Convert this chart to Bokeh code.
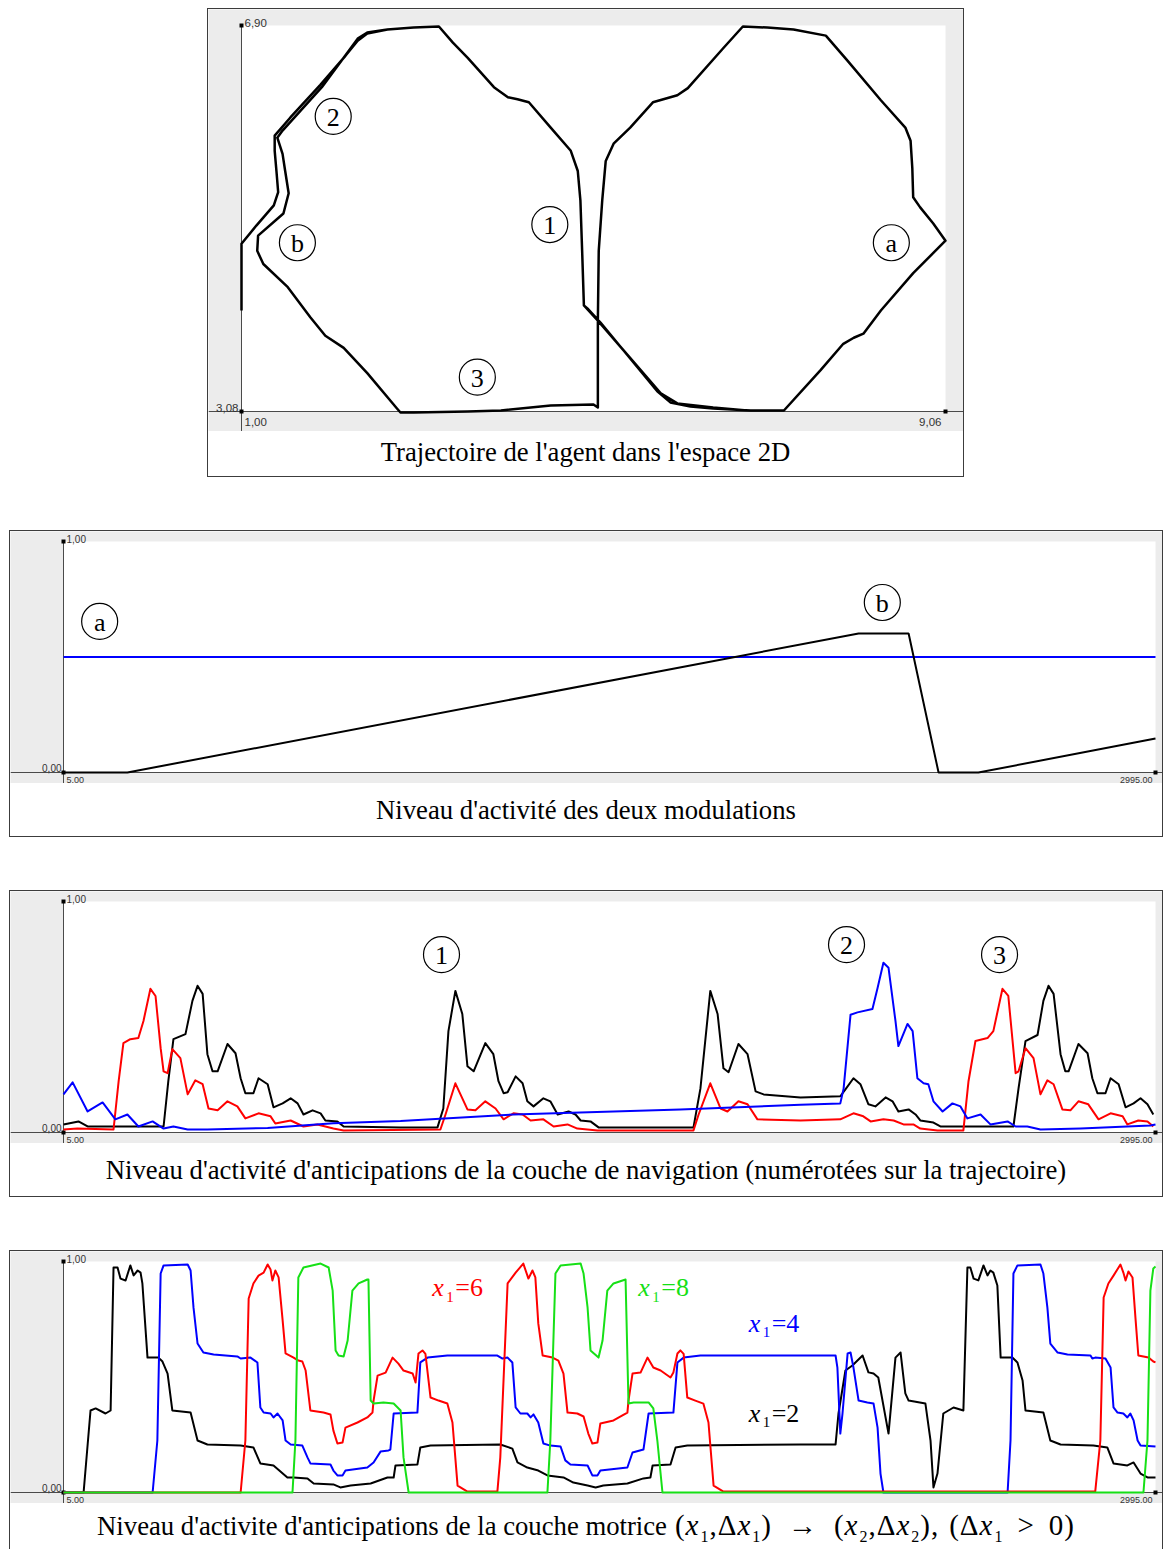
from bokeh.plotting import figure
from bokeh.models import Range1d, Div, Spacer
from bokeh.layouts import column, row
from bokeh.embed import file_html
from bokeh.resources import INLINE
from bokeh.core.properties import value

# ------------------------------------------------------------------ data
# panel 1 : trajectory of the agent (x, y)
traj_x = [1.00, 1.00, 1.17, 1.37, 1.42, 1.40, 1.38, 1.38, 1.56, 1.90,
          2.19, 2.33, 2.44, 2.67, 2.97, 3.26, 3.42, 3.59, 3.89, 4.05,
          4.16, 4.29, 4.54, 4.77, 4.85, 4.88, 4.90, 4.92, 5.08, 5.57,
          5.80, 5.99, 6.40, 6.79, 7.21, 7.63, 7.89, 8.01, 8.12, 8.32,
          8.69, 9.06, 8.92, 8.77, 8.69, 8.68, 8.66, 8.60, 8.32, 7.94,
          7.69, 7.32, 7.02, 6.74, 6.52, 6.11, 5.99, 5.71, 5.45, 5.26,
          5.17, 5.13, 5.09, 5.08, 5.08, 5.03, 4.54, 3.97, 3.59, 2.97,
          2.82, 2.78, 2.44, 2.17, 1.96, 1.79, 1.53, 1.25, 1.18, 1.19,
          1.48, 1.54, 1.50, 1.47, 1.41, 1.47, 1.92, 2.33, 2.44, 2.67,
          2.97, 3.26, 3.42, 3.59, 3.89, 4.05, 4.16, 4.29, 4.54, 4.77,
          4.85, 4.88, 4.90, 4.92, 4.96, 5.11, 5.76, 5.91, 6.14, 6.40,
          6.83, 7.21]
traj_y = [4.08, 4.74, 4.92, 5.12, 5.25, 5.46, 5.66, 5.81, 5.99, 6.31,
          6.60, 6.75, 6.82, 6.86, 6.88, 6.89, 6.73, 6.58, 6.29, 6.19,
          6.17, 6.14, 5.89, 5.66, 5.46, 5.17, 4.67, 4.13, 3.98, 3.49,
          3.26, 3.16, 3.12, 3.09, 3.09, 3.49, 3.75, 3.81, 3.85, 4.08,
          4.45, 4.77, 4.94, 5.10, 5.20, 5.49, 5.76, 5.89, 6.16, 6.55,
          6.80, 6.86, 6.88, 6.89, 6.68, 6.28, 6.21, 6.14, 5.89, 5.73,
          5.56, 5.17, 4.67, 3.98, 3.12, 3.15, 3.14, 3.09, 3.08, 3.07,
          3.07, 3.11, 3.46, 3.71, 3.83, 4.01, 4.31, 4.54, 4.67, 4.82,
          5.04, 5.24, 5.46, 5.63, 5.79, 5.86, 6.29, 6.77, 6.83, 6.86,
          6.88, 6.89, 6.73, 6.58, 6.29, 6.19, 6.17, 6.14, 5.89, 5.66,
          5.46, 5.17, 4.67, 4.13, 4.10, 3.96, 3.28, 3.17, 3.13, 3.11,
          3.09, 3.09]
traj_range_x = [1.00, 9.06]
traj_range_y = [3.08, 6.90]
traj_tick_labels = ["1,00", "9,06", "3,08", "6,90"]
traj_marks = ["2", "b", "1", "a", "3"]
traj_mark_x = [2.05, 1.64, 4.53, 8.44, 3.70]
traj_mark_y = [6.00, 4.75, 4.93, 4.75, 3.42]

# common time axis of the three activity panels
time_range = [5, 2995]
level_range = [0.0, 1.0]
time_tick_labels = ["5,00", "2995,00", "0,00", "1,00"]

# panel 2 : modulations
mod_a_x = [5, 2995]
mod_a_y = [0.5, 0.5]
mod_b_x = [5, 180, 2182, 2319, 2401, 2510, 2995]
mod_b_y = [0, 0, 0.602, 0.602, 0, 0, 0.147]
mod_marks = ["a", "b"]
mod_mark_x = [104, 2247]
mod_mark_y = [0.654, 0.736]

# panel 3 : navigation layer anticipations
nav_black_x = [5, 46, 71, 279, 292, 306, 339, 358, 372, 386, 399, 413, 427, 454, 476, 490, 503, 525, 539, 564,
               580, 605, 627, 646, 662, 687, 709, 722, 755, 772, 928, 1029, 1045, 1059, 1078, 1097, 1111, 1128, 1160, 1182,
               1196, 1210, 1221, 1243, 1262, 1275, 1292, 1319, 1338, 1358, 1388, 1407, 1421, 1448, 1470, 1730, 1749, 1776, 1796, 1812,
               1826, 1853, 1878, 1900, 1922, 2023, 2132, 2146, 2168, 2187, 2209, 2228, 2256, 2275, 2291, 2319, 2338, 2351, 2387, 2406,
               2606, 2620, 2639, 2672, 2688, 2702, 2716, 2735, 2748, 2757, 2784, 2809, 2822, 2836, 2858, 2872, 2894, 2913, 2935, 2954,
               2973, 2989]
nav_black_y = [0.035, 0.048, 0.026, 0.026, 0.222, 0.404, 0.426, 0.57, 0.635, 0.6, 0.339, 0.265, 0.265, 0.383, 0.343, 0.235, 0.17, 0.17, 0.235, 0.209,
               0.109, 0.126, 0.148, 0.126, 0.078, 0.096, 0.083, 0.052, 0.048, 0.026, 0.022, 0.022, 0.104, 0.439, 0.613, 0.513, 0.287, 0.265, 0.387, 0.339,
               0.222, 0.17, 0.174, 0.243, 0.213, 0.135, 0.113, 0.148, 0.135, 0.078, 0.091, 0.078, 0.052, 0.048, 0.022, 0.022, 0.191, 0.613, 0.513, 0.278,
               0.261, 0.383, 0.339, 0.178, 0.165, 0.152, 0.157, 0.187, 0.235, 0.209, 0.122, 0.113, 0.152, 0.135, 0.091, 0.1, 0.078, 0.052, 0.043, 0.026,
               0.026, 0.191, 0.396, 0.422, 0.57, 0.635, 0.6, 0.339, 0.265, 0.265, 0.383, 0.343, 0.235, 0.17, 0.17, 0.235, 0.209, 0.109, 0.126, 0.148,
               0.122, 0.078]
nav_red_x = [5, 43, 142, 156, 169, 188, 210, 224, 243, 257, 271, 279, 290, 303, 325, 345, 366, 386, 402, 427,
             454, 481, 503, 539, 572, 585, 627, 662, 700, 744, 772, 1037, 1051, 1078, 1111, 1133, 1160, 1188, 1210, 1237,
             1262, 1284, 1319, 1347, 1385, 1412, 1467, 1730, 1744, 1776, 1804, 1823, 1853, 1878, 1905, 2023, 2132, 2168, 2195, 2215,
             2250, 2278, 2305, 2332, 2351, 2398, 2469, 2483, 2502, 2535, 2551, 2576, 2592, 2612, 2620, 2639, 2661, 2680, 2699, 2716,
             2740, 2762, 2784, 2811, 2839, 2872, 2905, 2918, 2948, 2973, 2989]
nav_red_y = [0.013, 0.017, 0.013, 0.222, 0.387, 0.404, 0.409, 0.483, 0.622, 0.591, 0.365, 0.265, 0.257, 0.361, 0.322, 0.165, 0.226, 0.209, 0.104, 0.096,
             0.135, 0.113, 0.061, 0.083, 0.07, 0.039, 0.052, 0.026, 0.035, 0.017, 0.009, 0.013, 0.078, 0.213, 0.1, 0.096, 0.135, 0.104, 0.057, 0.083,
             0.078, 0.052, 0.057, 0.026, 0.035, 0.017, 0.009, 0.009, 0.078, 0.213, 0.104, 0.091, 0.135, 0.122, 0.057, 0.052, 0.057, 0.083, 0.07, 0.048,
             0.057, 0.052, 0.035, 0.035, 0.017, 0.009, 0.009, 0.222, 0.396, 0.409, 0.439, 0.622, 0.591, 0.257, 0.265, 0.365, 0.322, 0.165, 0.226, 0.209,
             0.1, 0.096, 0.135, 0.122, 0.057, 0.083, 0.07, 0.035, 0.052, 0.048, 0.026]
nav_blue_x = [5, 30, 71, 112, 147, 180, 210, 249, 279, 306, 345, 399, 564, 744, 928, 1237, 1694, 2023, 2132, 2141,
              2160, 2179, 2220, 2234, 2250, 2264, 2283, 2291, 2316, 2330, 2343, 2360, 2373, 2387, 2412, 2439, 2461, 2480, 2516, 2543,
              2590, 2612, 2644, 2680, 2790, 2981, 2995]
nav_blue_y = [0.165, 0.217, 0.091, 0.130, 0.057, 0.078, 0.026, 0.048, 0.017, 0.026, 0.013, 0.013, 0.02, 0.04, 0.05, 0.078, 0.10, 0.12, 0.126, 0.19,
              0.51, 0.52, 0.535, 0.626, 0.735, 0.713, 0.483, 0.374, 0.47, 0.439, 0.235, 0.213, 0.209, 0.135, 0.091, 0.126, 0.113, 0.061, 0.078, 0.035,
              0.048, 0.026, 0.026, 0.013, 0.017, 0.03, 0.035]
nav_marks = ["1", "2", "3"]
nav_mark_x = [1040, 2149, 2568]
nav_mark_y = [0.77, 0.813, 0.77]

# panel 4 : motor layer anticipations (x1 = 2, 4, 6, 8)
mot_black_x = [5, 60, 79, 93, 120, 134, 142, 153, 161, 175, 188, 197, 208, 216, 221, 235, 265, 276, 290, 303,
               353, 372, 399, 490, 525, 544, 580, 618, 635, 673, 690, 744, 763, 791, 846, 892, 909, 914, 974, 982,
               1010, 1201, 1234, 1248, 1275, 1305, 1330, 1374, 1401, 1440, 1462, 1483, 1549, 1593, 1612, 1618, 1667, 1681, 1713, 2023,
               2119, 2127, 2146, 2165, 2193, 2209, 2223, 2236, 2264, 2283, 2297, 2310, 2319, 2365, 2379, 2387, 2398, 2414, 2442, 2469,
               2480, 2488, 2497, 2510, 2524, 2535, 2543, 2551, 2562, 2571, 2603, 2617, 2631, 2639, 2688, 2707, 2735, 2825, 2863, 2880,
               2918, 2935, 2954, 2973, 2995]
mot_black_y = [0, 0, 0.355, 0.364, 0.342, 0.355, 0.974, 0.974, 0.926, 0.918, 0.983, 0.94, 0.961, 0.952, 0.905, 0.584, 0.584, 0.567, 0.515, 0.355,
               0.346, 0.225, 0.208, 0.203, 0.195, 0.126, 0.117, 0.065, 0.065, 0.061, 0.039, 0.035, 0.022, 0.03, 0.039, 0.065, 0.065, 0.117, 0.121, 0.195,
               0.203, 0.208, 0.19, 0.13, 0.108, 0.095, 0.074, 0.065, 0.043, 0.03, 0.022, 0.03, 0.039, 0.061, 0.065, 0.117, 0.121, 0.195, 0.203, 0.208,
               0.208, 0.342, 0.528, 0.55, 0.593, 0.52, 0.515, 0.498, 0.255, 0.584, 0.606, 0.429, 0.398, 0.385, 0.225, 0.022, 0.082, 0.342, 0.368, 0.355,
               0.974, 0.974, 0.926, 0.918, 0.983, 0.94, 0.961, 0.952, 0.896, 0.584, 0.584, 0.563, 0.485, 0.355, 0.346, 0.225, 0.208, 0.203, 0.195, 0.126,
               0.117, 0.13, 0.082, 0.065, 0.065]
mot_blue_x = [5, 249, 262, 271, 279, 345, 353, 361, 372, 388, 416, 481, 490, 517, 536, 544, 553, 572, 580, 591,
              605, 613, 627, 659, 673, 681, 736, 744, 755, 769, 777, 837, 854, 873, 895, 900, 909, 974, 982, 1002,
              1056, 1193, 1207, 1221, 1234, 1243, 1256, 1275, 1284, 1292, 1305, 1319, 1338, 1366, 1379, 1393, 1440, 1453, 1467, 1475,
              1549, 1563, 1593, 1607, 1675, 1686, 1703, 1749, 2119, 2124, 2132, 2138, 2152, 2160, 2168, 2182, 2206, 2223, 2234, 2242,
              2250, 2590, 2598, 2606, 2617, 2680, 2688, 2699, 2707, 2727, 2754, 2817, 2822, 2830, 2858, 2872, 2880, 2891, 2907, 2918,
              2926, 2935, 2946, 2954, 2995]
mot_blue_y = [0, 0, 0.225, 0.948, 0.983, 0.987, 0.961, 0.8, 0.645, 0.606, 0.597, 0.589, 0.58, 0.584, 0.563, 0.368, 0.346, 0.342, 0.325, 0.342,
              0.312, 0.225, 0.208, 0.203, 0.152, 0.126, 0.121, 0.095, 0.074, 0.074, 0.095, 0.108, 0.13, 0.177, 0.182, 0.186, 0.342, 0.346, 0.563, 0.584,
              0.593, 0.593, 0.58, 0.584, 0.563, 0.368, 0.342, 0.342, 0.325, 0.338, 0.303, 0.212, 0.203, 0.199, 0.139, 0.121, 0.117, 0.074, 0.074, 0.095,
              0.108, 0.173, 0.186, 0.342, 0.346, 0.563, 0.584, 0.593, 0.593, 0.541, 0.255, 0.342, 0.602, 0.606, 0.541, 0.398, 0.39, 0.385, 0.281, 0.082,
              0, 0, 0.225, 0.948, 0.983, 0.987, 0.948, 0.8, 0.645, 0.606, 0.597, 0.593, 0.58, 0.584, 0.58, 0.541, 0.368, 0.346, 0.342, 0.325,
              0.342, 0.312, 0.225, 0.203, 0.199]
mot_red_x = [5, 490, 503, 512, 525, 539, 553, 564, 572, 577, 585, 594, 605, 613, 635, 648, 659, 668, 681, 717,
             736, 744, 755, 769, 777, 810, 837, 851, 854, 865, 887, 906, 922, 936, 961, 969, 977, 988, 996, 1010,
             1032, 1056, 1070, 1084, 1111, 1193, 1201, 1221, 1243, 1264, 1278, 1289, 1297, 1305, 1317, 1344, 1360, 1374, 1385, 1412,
             1429, 1442, 1453, 1467, 1475, 1511, 1549, 1552, 1563, 1585, 1604, 1620, 1640, 1667, 1675, 1686, 1694, 1703, 1713, 1735,
             1757, 1771, 1785, 1812, 2830, 2844, 2853, 2866, 2880, 2899, 2907, 2913, 2921, 2932, 2940, 2948, 2976, 2989, 2995]
mot_red_y = [0, 0, 0.225, 0.84, 0.905, 0.939, 0.952, 0.987, 0.965, 0.918, 0.961, 0.931, 0.745, 0.602, 0.584, 0.571, 0.567, 0.528, 0.355, 0.346,
             0.338, 0.268, 0.212, 0.216, 0.281, 0.303, 0.325, 0.346, 0.398, 0.506, 0.519, 0.584, 0.558, 0.528, 0.515, 0.476, 0.602, 0.615, 0.6, 0.411,
             0.398, 0.385, 0.303, 0.03, 0.004, 0.004, 0.152, 0.905, 0.952, 0.991, 0.926, 0.961, 0.931, 0.732, 0.593, 0.584, 0.571, 0.515, 0.346, 0.342,
             0.329, 0.255, 0.212, 0.216, 0.299, 0.312, 0.346, 0.398, 0.515, 0.519, 0.584, 0.541, 0.528, 0.498, 0.52, 0.602, 0.615, 0.6, 0.411, 0.398,
             0.385, 0.303, 0.03, 0.004, 0.004, 0.225, 0.844, 0.905, 0.939, 0.987, 0.952, 0.918, 0.957, 0.931, 0.758, 0.593, 0.584, 0.567, 0.563]
mot_green_x = [5, 632, 640, 648, 662, 709, 731, 742, 750, 758, 772, 783, 796, 813, 837, 840, 846, 854, 881, 909,
               928, 936, 950, 1330, 1338, 1352, 1366, 1421, 1429, 1440, 1448, 1470, 1481, 1494, 1511, 1544, 1552, 1566, 1607, 1620,
               1631, 1645, 2962, 2973, 2981, 2989, 2995]
mot_green_y = [0, 0, 0.225, 0.931, 0.974, 0.991, 0.974, 0.874, 0.615, 0.593, 0.589, 0.658, 0.874, 0.905, 0.922, 0.922, 0.398, 0.385, 0.39, 0.385,
               0.355, 0.152, 0, 0, 0.225, 0.948, 0.983, 0.991, 0.948, 0.8, 0.615, 0.584, 0.658, 0.874, 0.905, 0.922, 0.385, 0.39, 0.39, 0.364,
               0.225, 0, 0, 0.225, 0.874, 0.97, 0.978]
mot_anno_x = [1015, 1579, 1881, 1881]
mot_anno_y = [0.887, 0.887, 0.732, 0.342]
mot_anno_sub = ["1", "1", "1", "1"]
mot_anno_val = ["=6", "=8", "=4", "=2"]

for a, b in [(traj_x, traj_y), (nav_black_x, nav_black_y), (nav_red_x, nav_red_y), (nav_blue_x, nav_blue_y),
             (mot_black_x, mot_black_y), (mot_blue_x, mot_blue_y), (mot_red_x, mot_red_y), (mot_green_x, mot_green_y)]:
    assert len(a) == len(b), (len(a), len(b))

# ------------------------------------------------------------------ style
GRAY = "#ececec"
BOX = "#3c3c3c"
AXC = "#4a4a4a"
BLACK = "#000000"
RED = "#ff0000"
BLUE = "#0000ff"
GREEN = "#16e016"
SERIF = "Liberation Serif"
SANS = "Liberation Sans"


def make_fig(w, h, xr, yr, pad_l, pad_r, pad_t, pad_b):
    """Figure whose canvas is the whole grey panel; the white plot area is [xr] x [yr]."""
    kx = (xr[1] - xr[0]) / (w - pad_l - pad_r)
    ky = (yr[1] - yr[0]) / (h - pad_t - pad_b)
    x0, x1 = xr[0] - pad_l * kx, xr[1] + pad_r * kx
    y0, y1 = yr[0] - pad_b * ky, yr[1] + pad_t * ky
    p = figure(width=w, height=h, x_range=Range1d(x0, x1), y_range=Range1d(y0, y1),
               output_backend="svg", toolbar_location=None, title=None,
               x_axis_location=None, y_axis_location=None, min_border=0,
               border_fill_color=GRAY, background_fill_color=GRAY, outline_line_color=None)
    p.grid.visible = False
    # white plotting area
    p.quad(left=[xr[0]], right=[xr[1]], bottom=[yr[0]], top=[yr[1]], fill_color="white", line_color=None)
    # axis lines (x axis across the panel, y axis from the top of the area down to the panel bottom)
    p.segment(x0=[x0, xr[0]], y0=[yr[0], yr[1]], x1=[x1, xr[0]], y1=[yr[0], y0],
              line_color=AXC, line_width=1)
    # small end markers of the axes
    p.scatter([xr[0], xr[0], xr[1]], [yr[1], yr[0], yr[0]], marker="square", size=4,
              fill_color=BLACK, line_color=None)
    return p


def tick_text(p, x, y, text, align, baseline, xo, yo, size):
    p.text([x], [y], text=[text], text_align=align, text_baseline=baseline,
           x_offset=xo, y_offset=yo, text_font=value(SANS), text_font_size=size,
           text_color="#333333")


def circled(p, xs, ys, texts):
    p.scatter(xs, ys, marker="circle", size=36, fill_color=None, line_color=BLACK, line_width=1.2)
    p.text(xs, ys, text=texts, text_align="center", text_baseline="middle",
           text_font=value(SERIF), text_font_size="26px", text_color=BLACK, y_offset=1)


def title_div(html, w, h, lh, pad=0):
    inner = ('<div style="width:%dpx;height:%dpx;padding-top:%dpx;line-height:%dpx;text-align:center;'
             'font-family:\'Liberation Serif\',serif;font-size:26.7px;color:#000;white-space:nowrap;'
             'overflow:hidden;background:#ffffff;margin:0;box-sizing:border-box">%s</div>' % (w, h, pad, lh, html))
    return Div(text=inner, width=w, height=h, margin=0, styles={"background-color": "#ffffff"})


def boxed(fig, div, bottom=True):
    c = column(fig, div, spacing=0)
    st = {"border-left": "1px solid " + BOX, "border-right": "1px solid " + BOX,
          "border-top": "1px solid " + BOX}
    if bottom:
        st["border-bottom"] = "1px solid " + BOX
    c.styles = st
    return c


# ------------------------------------------------------------------ panel 1
p1 = make_fig(755, 422, traj_range_x, traj_range_y, 33, 18, 16, 20)
p1.line(traj_x, traj_y, line_color=BLACK, line_width=2.5, line_join="round")
circled(p1, traj_mark_x, traj_mark_y, traj_marks)
tick_text(p1, traj_range_x[0], traj_range_y[0], traj_tick_labels[0], "left", "top", 3, 6, "11.5px")
tick_text(p1, traj_range_x[1], traj_range_y[0], traj_tick_labels[1], "right", "top", -4, 6, "11.5px")
tick_text(p1, traj_range_x[0], traj_range_y[0], traj_tick_labels[2], "right", "bottom", -3, 0, "11.5px")
tick_text(p1, traj_range_x[0], traj_range_y[1], traj_tick_labels[3], "left", "bottom", 3, 1, "11.5px")
d1 = title_div("Trajectoire de l'agent dans l'espace 2D", 755, 45, 42)
panel1 = boxed(p1, d1)


# ------------------------------------------------------------------ panels 2-4
def time_panel():
    p = make_fig(1152, 252, time_range, level_range, 53, 7, 10, 11)
    tick_text(p, time_range[0], level_range[1], time_tick_labels[3], "left", "bottom", 3, 1, "10px")
    tick_text(p, time_range[0], level_range[0], time_tick_labels[2], "right", "bottom", -2, -1, "10px")
    tick_text(p, time_range[0], level_range[0], time_tick_labels[0], "left", "bottom", 3, 10, "9px")
    tick_text(p, time_range[1], level_range[0], time_tick_labels[1], "right", "bottom", -3, 10, "9px")
    return p


p2 = time_panel()
p2.line(mod_a_x, mod_a_y, line_color=BLUE, line_width=2)
p2.line(mod_b_x, mod_b_y, line_color=BLACK, line_width=2)
circled(p2, mod_mark_x, mod_mark_y, mod_marks)
panel2 = boxed(p2, title_div("Niveau d'activité des deux modulations", 1152, 53, 54))

p3 = time_panel()
p3.line(nav_black_x, nav_black_y, line_color=BLACK, line_width=2, line_join="round")
p3.line(nav_red_x, nav_red_y, line_color=RED, line_width=2, line_join="round")
p3.line(nav_blue_x, nav_blue_y, line_color=BLUE, line_width=2, line_join="round")
circled(p3, nav_mark_x, nav_mark_y, nav_marks)
panel3 = boxed(p3, title_div("Niveau d'activité d'anticipations de la couche de navigation "
                             "(numérotées sur la trajectoire)", 1152, 53, 54))

p4 = time_panel()
p4.line(mot_black_x, mot_black_y, line_color=BLACK, line_width=2, line_join="round")
p4.line(mot_blue_x, mot_blue_y, line_color=BLUE, line_width=2, line_join="round")
p4.line(mot_red_x, mot_red_y, line_color=RED, line_width=2, line_join="round")
p4.line(mot_green_x, mot_green_y, line_color=GREEN, line_width=2, line_join="round")
anno_colors = [RED, GREEN, BLUE, BLACK]
p4.text(mot_anno_x, mot_anno_y, text=["x"] * 4, text_color=anno_colors, text_font=value(SERIF),
        text_font_style="italic", text_font_size="26px", text_baseline="middle", text_align="left")
p4.text(mot_anno_x, mot_anno_y, text=mot_anno_sub, text_color=anno_colors, text_font=value(SERIF),
        text_font_size="15px", text_baseline="middle", text_align="left", x_offset=14, y_offset=9)
p4.text(mot_anno_x, mot_anno_y, text=mot_anno_val, text_color=anno_colors, text_font=value(SERIF),
        text_font_size="26px", text_baseline="middle", text_align="left", x_offset=23)


def sub(d):
    return '<span style="font-size:16px;position:relative;top:7px;margin-left:1px">%s</span>' % d


def gap(wpx):
    return '<span style="display:inline-block;width:%dpx"></span>' % wpx


X = "<i>x</i>"
MATH = '<span style="font-size:29px;letter-spacing:1px">%s</span>'
title4 = ("Niveau d'activite d'anticipations de la couche motrice" + gap(8)
          + MATH % ("(" + X + sub(1) + ",Δ" + X + sub(1) + ")")
          + gap(16) + MATH % "→" + gap(16)
          + MATH % ("(" + X + sub(2) + ",Δ" + X + sub(2) + "),")
          + gap(10)
          + MATH % ("(Δ" + X + sub(1) + gap(14) + "&gt;" + gap(14) + "0)"))
panel4 = boxed(p4, title_div(title4, 1152, 46, 44, pad=0), bottom=False)

layout = column(
    Spacer(width=10, height=8),
    row(Spacer(width=207, height=469), panel1, spacing=0),
    Spacer(width=10, height=53),
    row(Spacer(width=9, height=307), panel2, spacing=0),
    Spacer(width=10, height=53),
    row(Spacer(width=9, height=307), panel3, spacing=0),
    Spacer(width=10, height=53),
    row(Spacer(width=9, height=299), panel4, spacing=0),
    spacing=0,
)

open("out.html", "w").write(file_html(layout, INLINE))
